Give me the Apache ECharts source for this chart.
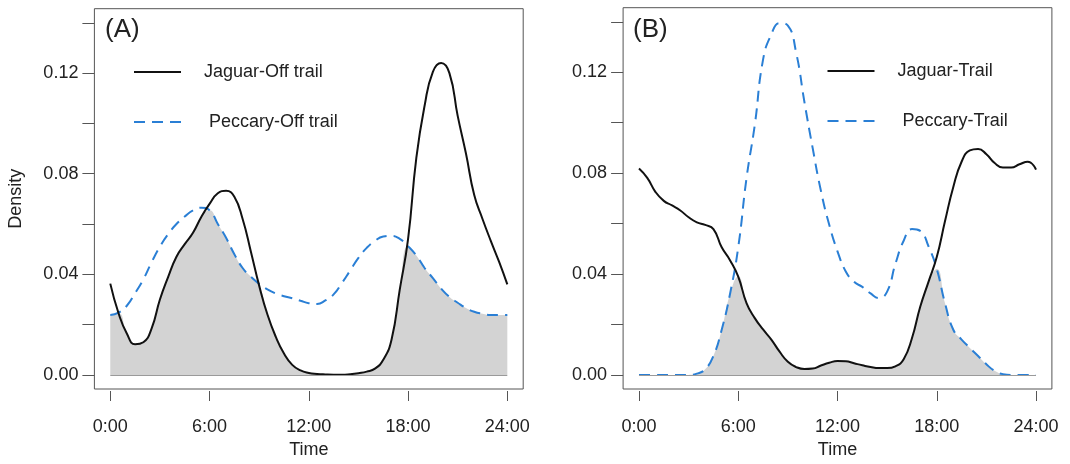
<!DOCTYPE html>
<html>
<head>
<meta charset="utf-8">
<script src="https://cdn.jsdelivr.net/npm/echarts@6/dist/echarts.min.js"></script>
<style>
  html, body { margin: 0; padding: 0; background: #fff; }
  #chart { width: 1070px; height: 464px; }
</style>
</head>
<body>
<div id="chart"></div>
<script>
// time of day, every half hour
const hours = [0, 0.5, 1, 1.5, 2, 2.5, 3, 3.5, 4, 4.5, 5, 5.5, 6, 6.5, 7, 7.5, 8, 8.5, 9, 9.5,
  10, 10.5, 11, 11.5, 12, 12.5, 13, 13.5, 14, 14.5, 15, 15.5, 16, 16.5, 17, 17.5, 18, 18.5, 19, 19.5,
  20, 20.5, 21, 21.5, 22, 22.5, 23, 23.5, 24]

// (A) off trail
const jaguarOffTrail = [0.0363, 0.0245, 0.0165, 0.0122, 0.0130, 0.0185, 0.0300, 0.0390, 0.0470, 0.0520,
  0.0565, 0.0628, 0.0680, 0.0722, 0.0732, 0.0708, 0.0620, 0.0490, 0.0355, 0.0240,
  0.0152, 0.0085, 0.0040, 0.0018, 0.0008, 0.0004, 0.0002, 0.0001, 0.0001, 0.0003,
  0.0007, 0.0013, 0.0025, 0.0060, 0.0140, 0.0340, 0.0540, 0.0863, 0.1070, 0.1205,
  0.1240, 0.1200, 0.1030, 0.0880, 0.0715, 0.0620, 0.0533, 0.0450, 0.0360]
const peccaryOffTrail = [0.0238, 0.0248, 0.0275, 0.0325, 0.0380, 0.0448, 0.0510, 0.0560, 0.0600, 0.0630,
  0.0654, 0.0665, 0.0655, 0.0600, 0.0545, 0.0480, 0.0425, 0.0390, 0.0362, 0.0340,
  0.0324, 0.0313, 0.0305, 0.0295, 0.0285, 0.0282, 0.0296, 0.0320, 0.0365, 0.0415,
  0.0465, 0.0505, 0.0533, 0.0550, 0.0553, 0.0541, 0.0512, 0.0475, 0.0425, 0.0385,
  0.0343, 0.0310, 0.0287, 0.0266, 0.0251, 0.0243, 0.0238, 0.0238, 0.0238]

// (B) trail
const jaguarTrail = [0.0818, 0.0781, 0.0725, 0.0690, 0.0672, 0.0652, 0.0625, 0.0605, 0.0595, 0.0578,
  0.0506, 0.0455, 0.0390, 0.0285, 0.0225, 0.0180, 0.0140, 0.0092, 0.0052, 0.0031,
  0.0023, 0.0025, 0.0037, 0.0048, 0.0055, 0.0054, 0.0046, 0.0038, 0.0031, 0.0027,
  0.0027, 0.0034, 0.0062, 0.0145, 0.0270, 0.0369, 0.0467, 0.0610, 0.0745, 0.0845,
  0.0890, 0.0896, 0.0875, 0.0840, 0.0822, 0.0822, 0.0835, 0.0845, 0.0814]
const peccaryTrail = [0, 0, 0, 0, 0, 0, 0, 0.0005, 0.0022, 0.0075,
  0.0179, 0.0320, 0.0506, 0.0780, 0.0991, 0.1250, 0.1350, 0.1395, 0.1385, 0.1278,
  0.1082, 0.0899, 0.0729, 0.0595, 0.0490, 0.0410, 0.0369, 0.0349, 0.0323, 0.0305,
  0.0330, 0.0440, 0.0532, 0.0578, 0.0571, 0.0510, 0.0420, 0.0284, 0.0179, 0.0140,
  0.0107, 0.0075, 0.0042, 0.0016, 0.0003, 0, 0, 0, 0]

const timeTicks = [0, 6, 12, 18, 24]
const timeLabels = ['0:00', '6:00', '12:00', '18:00', '24:00']
const densityTicks = [0, 0.02, 0.04, 0.06, 0.08, 0.10, 0.12, 0.14]
const densityLabels = [0, 0.04, 0.08, 0.12]

const BLUE = '#2a7fd5'
const TEXT = '#222'
const AXIS = '#555'
const FONT = 'Liberation Sans'

function pairs(ys) {
  return hours.map((h, i) => [h, ys[i]])
}
function overlap(a, b) {
  return a.map((v, i) => Math.min(v, b[i]))
}

// R default: axis range padded by 4% on each side, box drawn round it
const xMin = 0, xMax = 24, yMin = 0, yMax = 0.14
const xPad = 0.04 * (xMax - xMin), yPad = 0.04 * (yMax - yMin)

const panels = [
  {left: 94.4, top: 8.7, title: '(A)', titleLeft: 105, names: ['Jaguar-Off trail', 'Peccary-Off trail'],
    jaguar: jaguarOffTrail, peccary: peccaryOffTrail, legendLeft: 133, legendTop: 63},
  {left: 623.1, top: 7.7, title: '(B)', titleLeft: 633, names: ['Jaguar-Trail', 'Peccary-Trail'],
    jaguar: jaguarTrail, peccary: peccaryTrail, legendLeft: 826.5, legendTop: 62}
]
const W = 428.8, H = 385.6

const grid = [], xAxis = [], yAxis = [], series = [], legend = [], title = []

panels.forEach((p, k) => {
  grid.push({left: p.left, top: p.top, width: W, height: H, containLabel: false,
    show: true, borderColor: AXIS, borderWidth: 1, backgroundColor: 'transparent'})

  xAxis.push({
    gridIndex: k, type: 'value', min: xMin - xPad, max: xMax + xPad,
    position: 'bottom', offset: 2,
    axisLine: {show: false, onZero: false},
    axisTick: {show: true, inside: false, length: 10, customValues: timeTicks, lineStyle: {color: AXIS}},
    axisLabel: {fontSize: 18, color: TEXT, margin: 27, fontFamily: FONT, customValues: timeTicks,
      formatter: v => timeLabels[timeTicks.indexOf(v)]},
    splitLine: {show: false},
    name: 'Time', nameLocation: 'middle', nameGap: 50,
    nameTextStyle: {fontSize: 18, color: TEXT, fontFamily: FONT}
  })

  yAxis.push({
    gridIndex: k, type: 'value', min: yMin - yPad, max: yMax + yPad,
    axisLine: {show: false, onZero: false},
    axisTick: {show: true, inside: false, length: 12, customValues: densityTicks, lineStyle: {color: AXIS}},
    axisLabel: {fontSize: 18, color: TEXT, margin: 16, fontFamily: FONT, customValues: densityLabels,
      formatter: v => v.toFixed(2)},
    splitLine: {show: false},
    name: k === 0 ? 'Density' : '', nameLocation: 'middle', nameGap: 69, nameRotate: 90,
    nameTextStyle: {fontSize: 18, color: TEXT, fontFamily: FONT}
  })

  series.push({
    name: 'overlap' + k, type: 'line', xAxisIndex: k, yAxisIndex: k,
    data: pairs(overlap(p.jaguar, p.peccary)), smooth: true, symbol: 'none',
    lineStyle: {width: 0}, areaStyle: {color: '#d3d3d3', opacity: 1}, z: 1, silent: true,
    markLine: {
      silent: true, symbol: 'none', label: {show: false},
      lineStyle: {color: '#9a9a9a', width: 1, type: 'solid'},
      data: [[{coord: [xMin, 0]}, {coord: [xMax, 0]}]]
    }
  })
  series.push({
    name: p.names[0], type: 'line', xAxisIndex: k, yAxisIndex: k,
    data: pairs(p.jaguar), smooth: true, symbol: 'none',
    lineStyle: {color: '#111', width: 2}, itemStyle: {color: '#111'}, z: 3
  })
  series.push({
    name: p.names[1], type: 'line', xAxisIndex: k, yAxisIndex: k,
    data: pairs(p.peccary), smooth: true, symbol: 'none',
    lineStyle: {color: BLUE, width: 2, type: [11, 7]}, itemStyle: {color: BLUE}, z: 2
  })

  legend.push({
    data: p.names, orient: 'vertical', left: p.legendLeft, top: p.legendTop, padding: 0,
    itemWidth: 47, itemHeight: 14, itemGap: 32, selectedMode: false,
    itemStyle: {opacity: 0},
    textStyle: {fontSize: 18, color: TEXT, fontFamily: FONT,
      rich: {gap: {width: 18}, t: {fontSize: 18, color: TEXT, fontFamily: FONT}}},
    formatter: name => '{gap|}{t|' + (name.startsWith('Peccary') ? ' ' : '') + name + '}'
  })

  title.push({
    text: p.title, left: p.titleLeft, top: 17, padding: 0,
    textStyle: {fontSize: 26, fontWeight: 'normal', color: TEXT, fontFamily: FONT}
  })
})

const chart = echarts.init(document.getElementById('chart'), null, {renderer: 'canvas'})
chart.setOption({
  animation: false,
  backgroundColor: '#fff',
  title, grid, xAxis, yAxis, series, legend
})
</script>
</body>
</html>
